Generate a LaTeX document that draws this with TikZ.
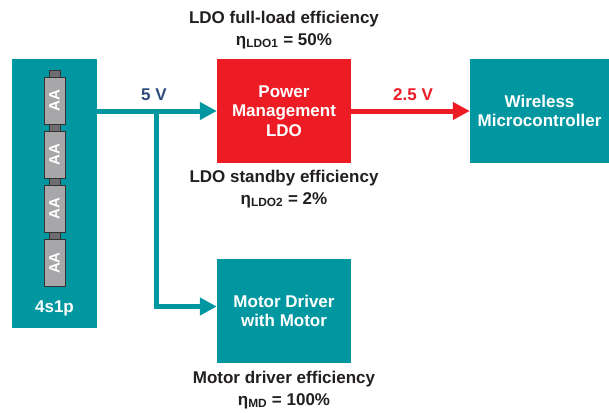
\documentclass[tikz,border=0pt]{standalone}
\usepackage{fontspec}
\setmainfont{Liberation Sans}
\usetikzlibrary{arrows.meta}
\usetikzlibrary{positioning}
\definecolor{titeal}{HTML}{0097A0}
\definecolor{tired}{HTML}{ED1C24}
\definecolor{tiblue}{HTML}{2E4A7D}
\definecolor{tidark}{HTML}{231F20}
\definecolor{cellgray}{HTML}{A7A6A9}
\definecolor{capgray}{HTML}{6D6E71}

\begin{document}
\begin{tikzpicture}[
    x=1pt, y=-1pt,
    font=\bfseries\fontsize{17}{19.5}\selectfont
]
\tikzset{
    blk/.style = {rectangle, inner sep=0pt, align=center, text=white},
    tealblk/.style = {blk, fill=titeal, minimum width=134pt, minimum height=104pt},
    redblk/.style = {blk, fill=tired, minimum width=134pt, minimum height=104pt},
    cell/.style = {rectangle, draw=black!80, line width=0.6pt, fill=cellgray, minimum width=21pt, minimum height=47pt, inner sep=0pt},
    cellcap/.style = {rectangle, draw=black!80, line width=0.6pt, fill=capgray, minimum width=11pt, minimum height=7pt, inner sep=0pt},
    effnote/.style = {align=center, text=tidark, font=\bfseries\fontsize{17}{22}\selectfont},
    tealline/.style = {line width=5pt, draw=titeal},
    tealarrow/.style = {tealline, -{Triangle[length=17pt,width=17pt]}},
    redarrow/.style = {line width=5pt, draw=tired, -{Triangle[length=17pt,width=17pt]}}
}
\fill[white] (0,0) rectangle (609,411);
% battery pack
\node[blk, fill=titeal, minimum width=85pt, minimum height=269pt] at (54.5,193.5) (bat) {};
\foreach \i in {0,1,2,3} {
    \node[cellcap] at (54.5,{73.5+54.2*\i}) (cap\i) {};
    \node[cell] at (54.5,{100.5+54.2*\i}) (cell\i)
        {\rotatebox{90}{\color{white}\fontsize{15}{15}\selectfont AA}};
}
\node[text=white] at (54.5,308) (pack) {4s1p};
% blocks
\node[redblk] at (284,111) (ldo) {Power\\Management\\LDO};
\node[blk, fill=titeal, minimum width=139pt, minimum height=104pt] at (539.5,111) (mcu) {Wireless\\Microcontroller};
\node[tealblk] at (284,311) (mot) {Motor Driver\\with Motor};
% efficiency notes
\node[effnote] at (284,30) (effa) {LDO full-load efficiency\\η\textsubscript{LDO1} = 50\%};
\node[effnote] at (284,189) (effb) {LDO standby efficiency\\η\textsubscript{LDO2} = 2\%};
\node[effnote] at (284,390) (effc) {Motor driver efficiency\\η\textsubscript{MD} = 100\%};
% connections
\coordinate (split) at (156.5,111);
\draw[tealarrow] (ldo.west -| bat.east) -- (ldo.west);
\draw[tealarrow] (split) |- ([yshift=4.5pt]mot.west);
\draw[redarrow] (ldo.east) -- (mcu.west);
\node[text=tiblue] at (154,95) (vin) {5 V};
\node[text=tired] at (413,95) (vout) {2.5 V};
\end{tikzpicture}
\end{document}
